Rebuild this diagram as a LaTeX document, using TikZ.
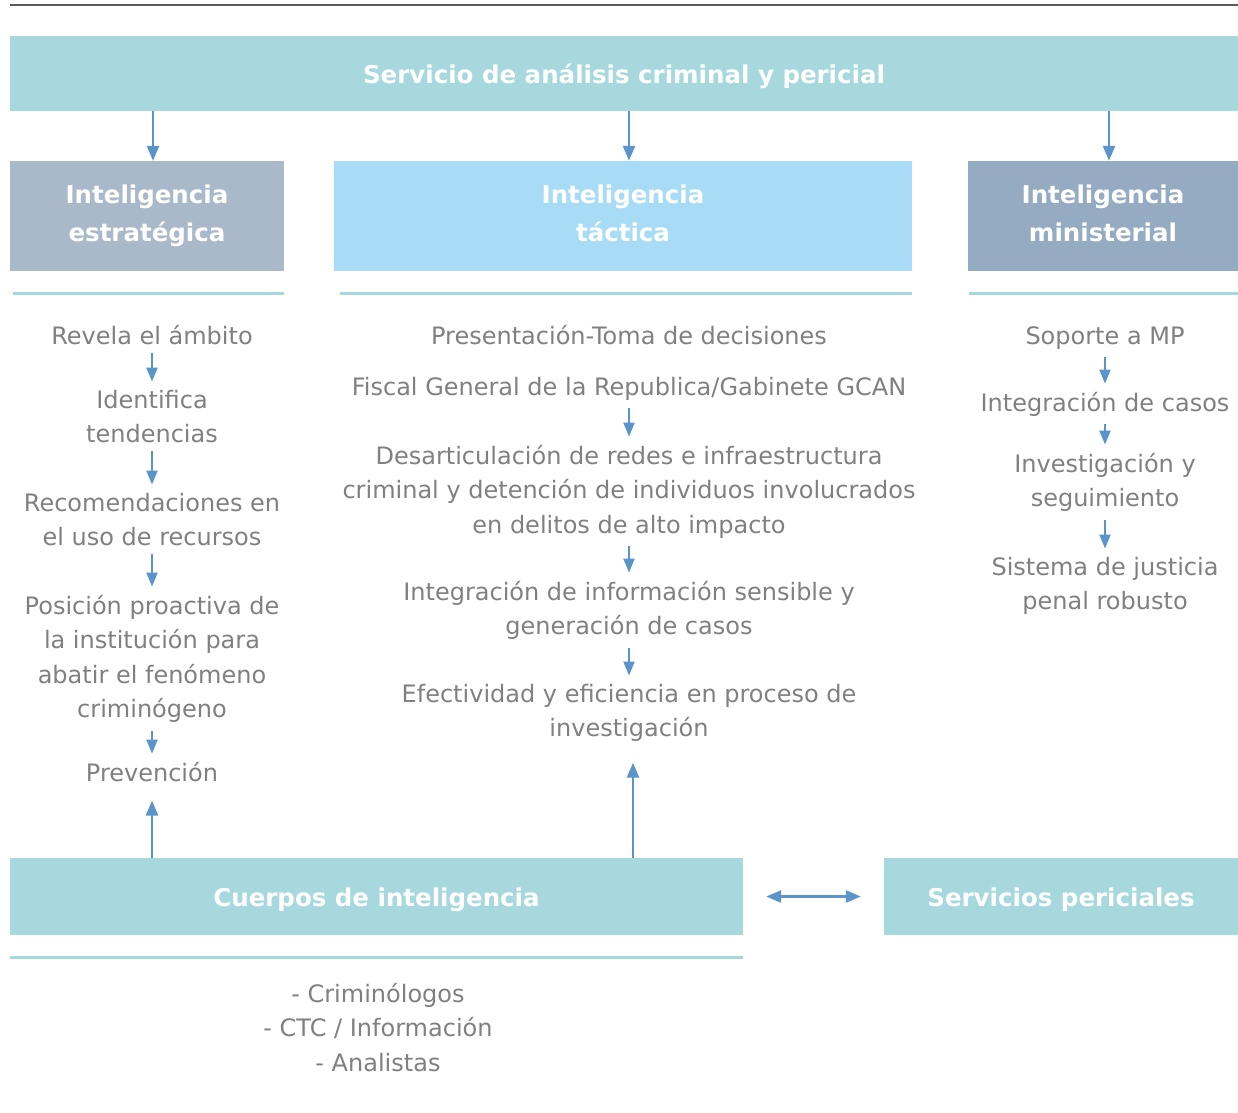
\documentclass[tikz,border=0pt]{standalone}
\usepackage{fontspec}
\setmainfont{DejaVu Sans}
\usetikzlibrary{arrows.meta}
\definecolor{teal1}{HTML}{A6D8DE}
\definecolor{boxA}{HTML}{A9B9CA}
\definecolor{boxB}{HTML}{A8DCF6}
\definecolor{boxC}{HTML}{94ABC1}
\definecolor{arrc}{HTML}{5A94C8}
\definecolor{txtg}{HTML}{808080}
\definecolor{topl}{HTML}{5A5A5A}
\tikzset{
  fillbox/.style={fill=#1, draw=none, inner sep=0pt, text=white,
    font=\fontsize{24.5}{38}\selectfont\bfseries, align=center},
  onelinebox/.style={text height=20pt, text depth=0.4pt},
  coltext/.style={text=txtg, font=\fontsize{24}{34.5}\selectfont, align=center, inner sep=0pt, anchor=base},
  rule/.style={draw=teal1, line width=3pt},
  arr/.style={draw=arrc, line width=2pt, shorten <=8pt, shorten >=8pt, -{Triangle[width=11pt,length=14pt]}},
  bigarr/.style={draw=arrc, line width=2.5pt, -{Triangle[width=12pt,length=15pt]}},
  dblarr/.style={draw=arrc, line width=2.5pt, {Triangle[width=12pt,length=15pt]}-{Triangle[width=12pt,length=15pt]}},
}
\begin{document}
\begin{tikzpicture}[x=1pt,y=-1pt]
\useasboundingbox (0,0) rectangle (1238,1112);
\draw[topl, line width=2.5pt] (10,5) -- (1238,5);

% top banner
\node[fillbox=teal1, onelinebox, minimum width=1228pt, minimum height=75pt] (top) at (624,73.5) {Servicio de análisis criminal y pericial};

% three boxes
\node[fillbox=boxA, minimum width=274pt, minimum height=110pt] (b1) at (147,216) {Inteligencia\\estratégica};
\node[fillbox=boxB, minimum width=578pt, minimum height=110pt] (b2) at (623,216) {Inteligencia\\táctica\vphantom{g}};
\node[fillbox=boxC, minimum width=270pt, minimum height=110pt] (b3) at (1103,216) {Inteligencia\\ministerial\vphantom{g}};

\draw[bigarr] ([xshift=6pt]b1.north |- top.south) -- ([xshift=6pt]b1.north);
\draw[bigarr] ([xshift=6pt]b2.north |- top.south) -- ([xshift=6pt]b2.north);
\draw[bigarr] ([xshift=6pt]b3.north |- top.south) -- ([xshift=6pt]b3.north);

% rules
\draw[rule] (13,293) -- (284,293);
\draw[rule] (340,293) -- (912,293);
\draw[rule] (969,293) -- (1238,293);

% left column (y = baseline of last line)
\node[coltext] (l1) at (152,344) {Revela el ámbito};
\node[coltext] (l2) at (152,442.5) {Identifica\\tendencias};
\node[coltext] (l3) at (152,545.5) {Recomendaciones en\\el uso de recursos};
\node[coltext] (l4) at (152,717.5) {Posición proactiva de\\la institución para\\abatir el fenómeno\\criminógeno};
\node[coltext] (l5) at (152,781) {Prevención};
\draw[arr] (l1) -- (l2);
\draw[arr] (l2) -- (l3);
\draw[arr] (l3) -- (l4);
\draw[arr] (l4) -- (l5);

% middle column
\node[coltext] (m0) at (629,344) {Presentación-Toma de decisiones};
\node[coltext] (m1) at (629,395) {Fiscal General de la Republica/Gabinete GCAN};
\node[coltext] (m2) at (629,533) {Desarticulación de redes e infraestructura\\criminal y detención de individuos involucrados\\en delitos de alto impacto};
\node[coltext] (m3) at (629,634.5) {Integración de información sensible y\\generación de casos};
\node[coltext] (m4) at (629,736.5) {Efectividad y eficiencia en proceso de\\investigación};
\draw[arr] (m1) -- (m2);
\draw[arr] (m2) -- (m3);
\draw[arr] (m3) -- (m4);

% right column
\node[coltext] (r1) at (1105,344) {Soporte a MP};
\node[coltext] (r2) at (1105,411) {Integración de casos};
\node[coltext] (r3) at (1105,506.5) {Investigación y\\seguimiento};
\node[coltext] (r4) at (1105,609.5) {Sistema de justicia\\penal robusto};
\draw[arr] (r1) -- (r2);
\draw[arr] (r2) -- (r3);
\draw[arr] (r3) -- (r4);

% bottom boxes
\node[fillbox=teal1, onelinebox, minimum width=733pt, minimum height=77pt] (cu) at (376.5,896.5) {Cuerpos de inteligencia};
\node[fillbox=teal1, onelinebox, minimum width=354pt, minimum height=77pt] (sp) at (1061,896.5) {Servicios periciales};
\draw[rule] (10,957) -- (743,957);
\node[coltext] (bl) at (378,1071) {- Criminólogos\\- CTC / Información\\- Analistas};

\draw[bigarr, shorten >=19pt] (cu.north -| l5) -- (l5.south);
\draw[bigarr, shorten >=21pt] ([xshift=4pt]cu.north -| m4) -- ([xshift=4pt]m4.south);
\draw[dblarr, shorten <=23pt, shorten >=23pt] (cu.east) -- (sp.west);
\end{tikzpicture}
\end{document}
